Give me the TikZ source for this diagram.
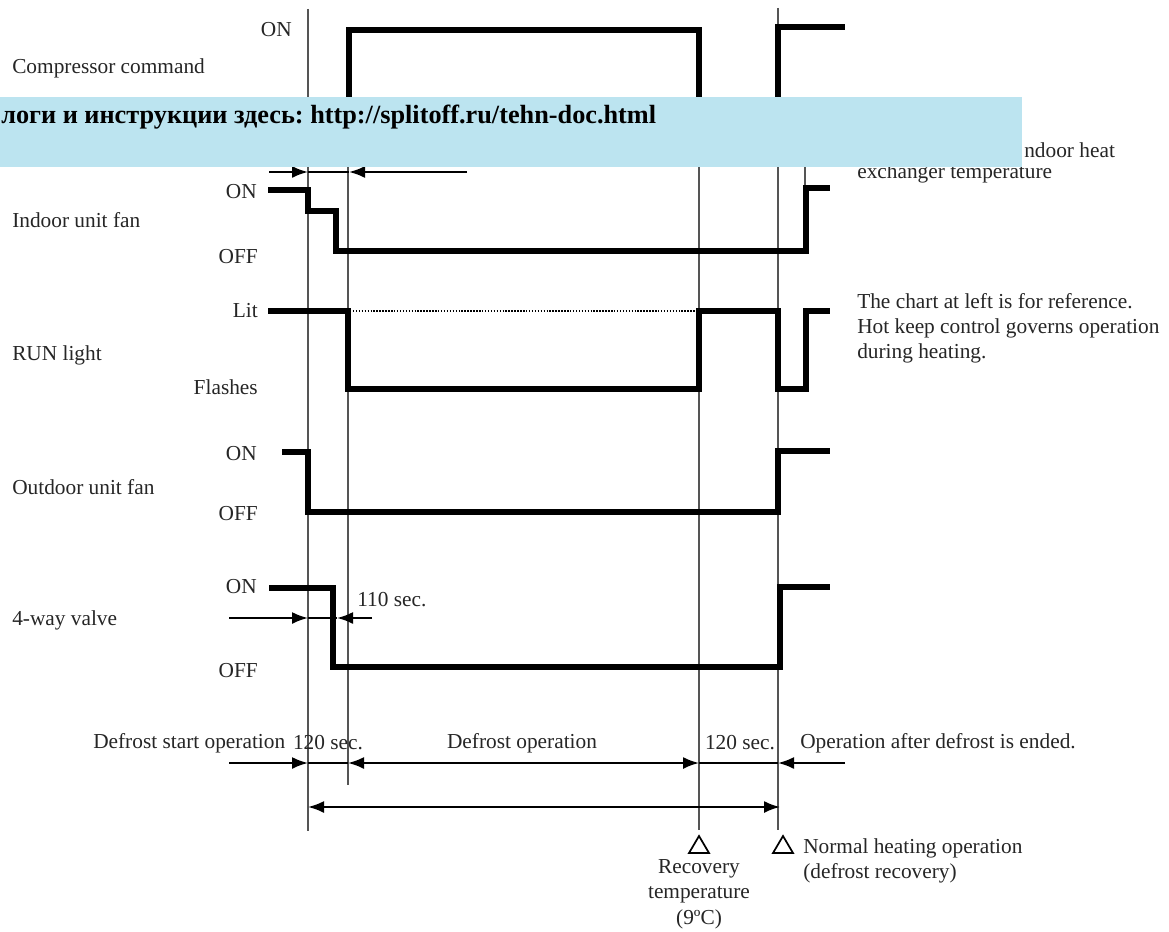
\documentclass[tikz,border=0pt]{standalone}
\usepackage{fontspec}
\setmainfont{Liberation Serif}
\usetikzlibrary{arrows.meta}
\definecolor{bannerblue}{RGB}{188,228,240}
\definecolor{guidegray}{RGB}{85,85,85}
\frenchspacing
\begin{document}
\begin{tikzpicture}[x=0.75pt,y=-0.75pt,
  lbl/.style={font=\fontsize{16}{19}\selectfont, inner sep=0pt, text=black!85},
  guide/.style={draw=guidegray, line width=0.9pt},
  wave/.style={draw=black, line width=4pt, line join=miter},
  conn/.style={draw=black, line width=1.5pt},
  arr/.style={conn, -{Latex[length=12pt,width=9pt]}},
  darr/.style={conn, {Latex[length=12pt,width=9pt]}-{Latex[length=12pt,width=9pt]}},
  tri/.style={draw=black, line width=1.3pt, line join=miter}]
\useasboundingbox (0,0) rectangle (1169,931);
\fill[white] (0,0) rectangle (1169,931);

% guide lines
\draw[guide] (308,9) -- (308,831);
\draw[guide] (348,30) -- (348,785);
\draw[guide] (699,30) -- (699,830);
\draw[guide] (778,8) -- (778,830);
\draw[guide] (805,150) -- (805,190);

% signal labels
\node[lbl,anchor=west] (lcomp) at (12,68) {Compressor command};
\node[lbl,anchor=west] (lfan) at (12,220) {Indoor unit fan};
\node[lbl,anchor=west] (lrun) at (12,355) {RUN light};
\node[lbl,anchor=west] (lout) at (12,487) {Outdoor unit fan};
\node[lbl,anchor=west] (lvalve) at (12,620) {4-way valve};

% level labels
\node[lbl,anchor=east] (son1) at (292,30) {ON};
\node[lbl,anchor=east] (son2) at (257,192) {ON};
\node[lbl,anchor=east] (soff2) at (258,257) {OFF};
\node[lbl,anchor=east] (slit) at (258,311) {Lit};
\node[lbl,anchor=east] (sfl) at (258,387) {Flashes};
\node[lbl,anchor=east] (son4) at (257,454) {ON};
\node[lbl,anchor=east] (soff4) at (258,514) {OFF};
\node[lbl,anchor=east] (son5) at (257,587) {ON};
\node[lbl,anchor=east] (soff5) at (258,671) {OFF};

% waveforms
\draw[wave] (300,135) -- (349,135) -- (349,30) -- (699,30) -- (699,135) -- (778,135) -- (778,27) -- (845,27);
\draw[wave] (268,190) -- (308,190) -- (308,211) -- (336,211) -- (336,251) -- (806,251) -- (806,188) -- (830,188);
\draw[wave] (268,311) -- (348,311) -- (348,389) -- (699,389) -- (699,311) -- (778,311) -- (778,389) -- (806,389) -- (806,311) -- (830,311);
\draw[line width=1.2pt, dash pattern=on 1.1pt off 1.1pt] (350,311) -- (697,311);
\draw[wave] (282,452) -- (308,452) -- (308,512) -- (778,512) -- (778,451) -- (830,451);
\draw[wave] (269,588) -- (333,588) -- (333,667) -- (780,667) -- (780,587) -- (830,587);

% coordinates for dimension arrows
\coordinate (ta) at (269,172);
\coordinate (tb) at (308,172);
\coordinate (tc) at (349,172);
\coordinate (td) at (467,172);
\coordinate (va) at (229,618);
\coordinate (vb) at (308,618);
\coordinate (vc) at (337,618);
\coordinate (vd) at (372,618);
\coordinate (ba) at (229,763);
\coordinate (bb) at (308,763);
\coordinate (bc) at (348,763);
\coordinate (bd) at (699,763);
\coordinate (be) at (778,763);
\coordinate (bf) at (845,763);
\coordinate (ca) at (308,807);
\coordinate (cb) at (780,807);

\draw[arr] (ta) -- (tb);
\draw[conn] (tb) -- (tc);
\draw[arr] (td) -- (tc);
\draw[arr] (va) -- (vb);
\draw[conn] (vb) -- (vc);
\draw[arr] (vd) -- (vc);
\node[lbl,anchor=west] (t110) at (357,600) {110 sec.};
\draw[arr] (ba) -- (bb);
\draw[conn] (bb) -- (bc);
\draw[darr] (bc) -- (bd);
\draw[conn] (bd) -- (be);
\draw[arr] (bf) -- (be);
\draw[darr] (ca) -- (cb);

% bottom labels
\node[lbl,anchor=west] (dso) at (93,743) {Defrost start operation};
\node[lbl] (s120a) at (328,743) {120 sec.};
\node[lbl] (dop) at (522,743) {Defrost operation};
\node[lbl] (s120b) at (740,743) {120 sec.};
\node[lbl,anchor=west] (oad) at (800,743) {Operation after defrost is ended.};

% triangles
\draw[tri] (689,853) -- (699,836) -- (709,853) -- cycle;
\draw[tri] (773,853) -- (783,836) -- (793,853) -- cycle;
\node[lbl,align=center] (rec) at (699,894) {Recovery\\temperature\\(9ºC)};
\node[lbl,anchor=north west,align=left] (nho) at (803,838) {Normal heating operation\\(defrost recovery)};

% right notes
\node[lbl,anchor=west] (ihe1) at (1024,150) {ndoor heat};
\node[lbl,anchor=west] (ihe2) at (857,173) {exchanger temperature};
\node[lbl,anchor=north west,align=left] (note) at (857,293) {The chart at left is for reference.\\Hot keep control governs operation\\during heating.};

% banner
\fill[bannerblue] (0,97) rectangle (1022,167);
\node[anchor=base west, inner sep=0pt, font=\fontsize{19.7}{22}\selectfont\bfseries] (ban) at (1,123) {логи и инструкции здесь: http://splitoff.ru/tehn-doc.html};
\end{tikzpicture}
\end{document}
